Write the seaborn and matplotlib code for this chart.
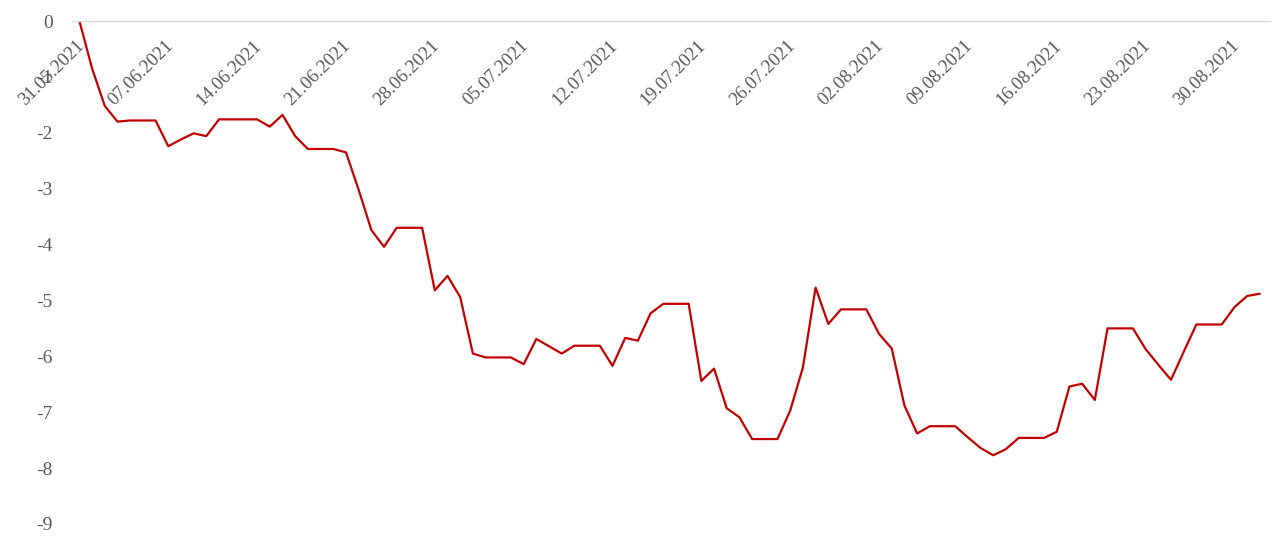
import numpy as np
import pandas as pd
import matplotlib
matplotlib.use("Agg")
import matplotlib.pyplot as plt
import matplotlib.dates as mdates
from matplotlib.transforms import ScaledTranslation
import seaborn as sns

start = "2021-05-31"
values = [
    0.00, -0.85, -1.52, -1.80, -1.78, -1.78, -1.78,
    -2.24, -2.12, -2.01, -2.06, -1.76, -1.76, -1.76,
    -1.76, -1.89, -1.68, -2.06, -2.29, -2.29, -2.29,
    -2.35, -3.02, -3.74, -4.04, -3.70, -3.70, -3.70,
    -4.82, -4.56, -4.94, -5.95, -6.02, -6.02, -6.02,
    -6.14, -5.69, -5.82, -5.95, -5.81, -5.81, -5.81,
    -6.17, -5.67, -5.72, -5.23, -5.06, -5.06, -5.06,
    -6.44, -6.22, -6.93, -7.09, -7.48, -7.48, -7.48,
    -6.97, -6.20, -4.77, -5.42, -5.16, -5.16, -5.16,
    -5.60, -5.86, -6.88, -7.38, -7.25, -7.25, -7.25,
    -7.45, -7.64, -7.77, -7.66, -7.46, -7.46, -7.46,
    -7.35, -6.54, -6.49, -6.78, -5.50, -5.50, -5.50,
    -5.87, -6.15, -6.42, -5.92, -5.43, -5.43, -5.43,
    -5.12, -4.92, -4.88,
]
dates = pd.date_range(start, periods=len(values), freq="D")
tick_dates = pd.date_range(start, "2021-08-30", freq="7D")
tick_labels = [d.strftime("%d.%m.%Y") for d in tick_dates]
y_ticks = list(range(0, -10, -1))

df = pd.DataFrame({"date": dates + pd.Timedelta(hours=12), "value": values})

sns.set_theme(style="white")
plt.rcParams["font.family"] = ["Liberation Serif", "DejaVu Serif"]
plt.rcParams["axes.unicode_minus"] = False

fig = plt.figure(figsize=(12.8, 5.43), dpi=100)
ax = fig.add_axes([72 / 1280, 1 - 524 / 543, (1270 - 72) / 1280, (524 - 21) / 543])

sns.lineplot(data=df, x="date", y="value", ax=ax, color="#C00000", linewidth=1.6)

ax.set_ylim(-9, 0)
ax.set_xlim(pd.Timestamp(start) - pd.Timedelta(hours=2), pd.Timestamp(start) + pd.Timedelta(days=94.3))
ax.set_yticks(y_ticks)
ax.set_yticklabels([str(v) for v in y_ticks])
ax.set_xticks(tick_dates)
ax.set_xticklabels(tick_labels)

for s in ["left", "right", "top"]:
    ax.spines[s].set_visible(False)
ax.spines["bottom"].set_position(("data", 0))
ax.spines["bottom"].set_color("#D9D9D9")
ax.spines["bottom"].set_linewidth(1.0)

ax.tick_params(axis="y", length=0, pad=14, labelsize=14, labelcolor="#595959")
ax.tick_params(axis="x", length=4, width=1.0, color="#D9D9D9", direction="out",
               pad=12, labelsize=13.5, labelcolor="#595959")
offset = ScaledTranslation(6 / 72, 0, fig.dpi_scale_trans)
for lab in ax.get_xticklabels():
    lab.set_rotation(45)
    lab.set_ha("right")
    lab.set_va("center")
    lab.set_rotation_mode("anchor")
    lab.set_transform(lab.get_transform() + offset)

ax.set_xlabel("")
ax.set_ylabel("")
ax.grid(False)

fig.savefig("out.png", dpi=100, facecolor="white")
